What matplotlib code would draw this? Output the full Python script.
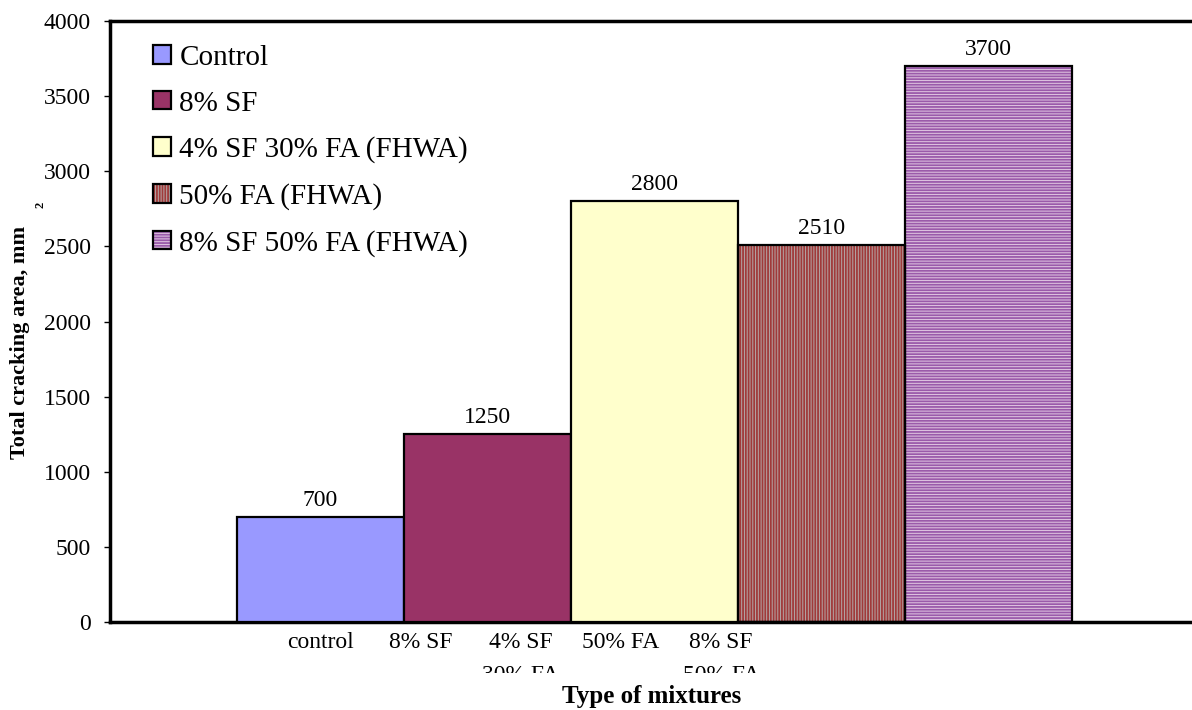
import numpy as np
import matplotlib
matplotlib.use("Agg")
import matplotlib.pyplot as plt
from matplotlib.patches import Patch, Rectangle

# --------------------
# Data
# --------------------
mixtures = ["Control", "8% SF", "4% SF 30% FA (FHWA)", "50% FA (FHWA)", "8% SF 50% FA (FHWA)"]
tick_labels = ["control", "8% SF", "4% SF\n30% FA", "50% FA", "8% SF\n50% FA"]
cracking_area = [700, 1250, 2800, 2510, 3700]

face_colors = ["#9999FF", "#993366", "#FFFFCC", "#B4A8A8", "#E2C8E2"]
hatches = [None, None, None, "||||||", "------"]
hatch_colors = [None, None, None, "#A03A3A", "#9A5AAA"]

serif = ["Liberation Serif", "DejaVu Serif"]
plt.rcParams["font.family"] = serif
plt.rcParams["hatch.linewidth"] = 1.3

fig = plt.figure(figsize=(11.92, 7.1), dpi=100)
ax = fig.add_axes([110 / 1192, 88 / 710, 1 - 110 / 1192, (622 - 21) / 710])

x = np.arange(len(cracking_area))
handles = []
for i, (val, fc, h, hc) in enumerate(zip(cracking_area, face_colors, hatches, hatch_colors)):
    if h is not None:
        # stripes first, then a plain black outline on top
        ax.bar(x[i], val, width=1.0, color=fc, edgecolor=hc, hatch=h, linewidth=0, zorder=2)
        ax.bar(x[i], val, width=1.0, facecolor="none", edgecolor="black", linewidth=1.6, zorder=3)
        handles.append((Patch(facecolor=fc, edgecolor=hc, hatch=h, linewidth=0),
                        Patch(facecolor="none", edgecolor="black", linewidth=1.6)))
    else:
        ax.bar(x[i], val, width=1.0, color=fc, edgecolor="black", linewidth=1.6, zorder=3)
        handles.append(Patch(facecolor=fc, edgecolor="black", linewidth=1.6))
    ax.text(x[i], val + 40, f"{val}", ha="center", va="bottom", fontsize=17)

ax.set_xlim(-1.26, 5.22)
ax.set_ylim(0, 4000)
ax.set_yticks(np.arange(0, 4001, 500))
ax.tick_params(axis="y", direction="out", length=4, width=1, pad=10, labelsize=17)

# category labels sit on a tighter spacing than the bars
ax.set_xticks(x * 0.6)
ax.set_xticklabels(tick_labels, fontsize=17, linespacing=1.75)
ax.tick_params(axis="x", length=0, pad=7)
clip = Rectangle((0, (710 - 673) / 710), 1, 1, transform=fig.transFigure)
for t in ax.get_xticklabels():
    t.set_clip_path(clip)
    t.set_clip_on(True)

for side in ["left", "top", "bottom"]:
    ax.spines[side].set_linewidth(2.5)
ax.spines["right"].set_visible(False)

ax.set_ylabel("Total cracking area, mm", fontsize=16, fontweight="bold")
ax.yaxis.set_label_coords(-0.074, 0.465)
fig.text(40 / 1192, 1 - 205 / 710, "2", fontsize=9, fontweight="bold", rotation=90,
         ha="center", va="center")
fig.text(652 / 1192, 1 - 697 / 710, "Type of mixtures", fontsize=18, fontweight="bold",
         ha="center", va="center")

leg = ax.legend(handles, mixtures, loc="upper left", bbox_to_anchor=(0.029, 0.98),
                frameon=False, fontsize=21, handlelength=0.6, handleheight=0.6,
                handletextpad=0.3, labelspacing=0.68, borderaxespad=0)

fig.savefig("out.png", dpi=100)
